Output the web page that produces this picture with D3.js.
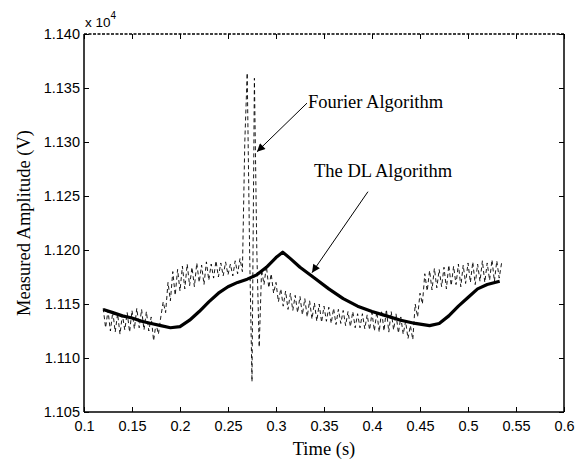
<!DOCTYPE html>
<html>
<head>
<meta charset="utf-8">
<script src="https://cdn.jsdelivr.net/npm/d3@7"></script>
<style>
body { margin: 0; background: #fff; }
svg { display: block; }
</style>
</head>
<body>
<svg width="584" height="464"></svg>
<script>
var svg = d3.select('svg');

// plot box
var boxLeft = 84, boxRight = 564, boxTop = 34, boxBottom = 412;

var xTicks = [0.1, 0.15, 0.2, 0.25, 0.3, 0.35, 0.4, 0.45, 0.5, 0.55, 0.6];
var yTicks = [1.105, 1.110, 1.115, 1.120, 1.125, 1.130, 1.135, 1.140];

// DL algorithm (thick line), values in units of 10^4 V
var dlTime = [0.120, 0.130, 0.140, 0.150, 0.160, 0.170, 0.180, 0.190, 0.200, 0.210,
              0.220, 0.230, 0.240, 0.250, 0.260, 0.270, 0.280, 0.290, 0.300, 0.307,
              0.315, 0.325, 0.340, 0.355, 0.370, 0.385, 0.400, 0.415, 0.430, 0.445,
              0.460, 0.470, 0.480, 0.490, 0.500, 0.510, 0.520, 0.533];
var dlValue = [1.1145, 1.1142, 1.1139, 1.1137, 1.1134, 1.1132, 1.1130, 1.1128, 1.1129, 1.1135,
               1.1143, 1.1152, 1.1160, 1.1166, 1.1170, 1.1173, 1.1177, 1.1184, 1.1193, 1.1198,
               1.1192, 1.1184, 1.1174, 1.1164, 1.1155, 1.1148, 1.1143, 1.1139, 1.1135, 1.1132,
               1.1130, 1.1132, 1.1139, 1.1148, 1.1156, 1.1164, 1.1168, 1.1171];

// Fourier algorithm (dashed), sampled every 2.5 ms from 0.12 s
var fourierStart = 0.12;
var fourierStep = 0.0025;
var fourierValue = [
  1.1146, 1.1128, 1.1144, 1.1125, 1.1143, 1.1124, 1.1141, 1.1122, 1.1140, 1.1126,
  1.1142, 1.1124, 1.1144, 1.1127, 1.1146, 1.1128, 1.1145, 1.1126, 1.1143, 1.1125,
  1.1138, 1.1116, 1.1132, 1.1122, 1.1138, 1.1152, 1.1142, 1.1170, 1.1153, 1.1180,
  1.1158, 1.1182, 1.1162, 1.1185, 1.1164, 1.1187, 1.1167, 1.1184, 1.1166, 1.1188,
  1.1170, 1.1186, 1.1168, 1.1189, 1.1172, 1.1187, 1.1174, 1.1190, 1.1175, 1.1188,
  1.1176, 1.1189, 1.1177, 1.1187, 1.1176, 1.1190, 1.1178, 1.1192, 1.1180, 1.1300,
  1.1364, 1.1200, 1.1078, 1.1359, 1.1200, 1.1110, 1.1182, 1.1168, 1.1185, 1.1165,
  1.1178, 1.1160, 1.1170, 1.1152, 1.1164, 1.1148, 1.1162, 1.1145, 1.1160, 1.1144,
  1.1158, 1.1142, 1.1157, 1.1140, 1.1155, 1.1138, 1.1153, 1.1136, 1.1151, 1.1134,
  1.1150, 1.1133, 1.1148, 1.1134, 1.1147, 1.1132, 1.1146, 1.1131, 1.1145, 1.1132,
  1.1144, 1.1130, 1.1143, 1.1129, 1.1143, 1.1128, 1.1141, 1.1128, 1.1141, 1.1127,
  1.1140, 1.1126, 1.1142, 1.1125, 1.1143, 1.1124, 1.1144, 1.1125, 1.1145, 1.1124,
  1.1143, 1.1126, 1.1141, 1.1123, 1.1138, 1.1122, 1.1134, 1.1118, 1.1130, 1.1117,
  1.1150, 1.1138, 1.1160, 1.1150, 1.1178, 1.1162, 1.1181, 1.1163, 1.1183, 1.1165,
  1.1182, 1.1166, 1.1184, 1.1164, 1.1186, 1.1167, 1.1185, 1.1168, 1.1187, 1.1166,
  1.1186, 1.1169, 1.1188, 1.1170, 1.1189, 1.1168, 1.1187, 1.1171, 1.1190, 1.1170,
  1.1188, 1.1172, 1.1191, 1.1171, 1.1190, 1.1174, 1.1188
];

var x = d3.scaleLinear().domain([0.1, 0.6]).range([boxLeft, boxRight]);
var y = d3.scaleLinear().domain([1.105, 1.140]).range([boxBottom, boxTop]);

var tickFont = "'Liberation Sans', Arial, sans-serif";
var titleFont = "'Liberation Serif', 'Times New Roman', serif";

// axes with inward ticks
var gBottom = svg.append("g").attr("transform", "translate(0," + boxBottom + ")")
    .call(d3.axisBottom(x).tickValues(xTicks).tickSizeInner(-5).tickSizeOuter(0)
        .tickPadding(9).tickFormat(d3.format("")));
var gLeft = svg.append("g").attr("transform", "translate(" + boxLeft + ",0)")
    .call(d3.axisLeft(y).tickValues(yTicks).tickSizeInner(-5).tickSizeOuter(0)
        .tickPadding(4).tickFormat(d3.format(".3f")));
var gTop = svg.append("g").attr("transform", "translate(0," + boxTop + ")")
    .call(d3.axisTop(x).tickValues(xTicks).tickSizeInner(-5).tickSizeOuter(0).tickFormat(""));
var gRight = svg.append("g").attr("transform", "translate(" + boxRight + ",0)")
    .call(d3.axisRight(y).tickValues(yTicks).tickSizeInner(-5).tickSizeOuter(0).tickFormat(""));

[gBottom, gLeft, gTop, gRight].forEach(function (g) {
    g.select(".domain").remove();
    g.selectAll(".tick line").attr("stroke", "#000").attr("stroke-width", 1);
    g.selectAll(".tick text").attr("font-family", tickFont).attr("font-size", 14.5).attr("fill", "#000");
});

// box
svg.append("line").attr("x1", boxLeft).attr("y1", boxTop).attr("x2", boxLeft).attr("y2", boxBottom)
    .attr("stroke", "#000").attr("stroke-width", 1.5);
svg.append("line").attr("x1", boxLeft).attr("y1", boxBottom).attr("x2", boxRight).attr("y2", boxBottom)
    .attr("stroke", "#000").attr("stroke-width", 1.5);
svg.append("line").attr("x1", boxRight).attr("y1", boxTop).attr("x2", boxRight).attr("y2", boxBottom)
    .attr("stroke", "#000").attr("stroke-width", 1.5);
svg.append("line").attr("x1", boxLeft).attr("y1", boxTop).attr("x2", boxRight).attr("y2", boxTop)
    .attr("stroke", "#000").attr("stroke-width", 1.5).attr("stroke-dasharray", "3,1.5");

// curves
var fourierData = fourierValue.map(function (v, i) {
    return [fourierStart + i * fourierStep, v];
});
var dlData = dlTime.map(function (t, i) { return [t, dlValue[i]]; });

var line = d3.line().x(function (d) { return x(d[0]); }).y(function (d) { return y(d[1]); });

svg.append("path").datum(fourierData).attr("d", line)
    .attr("fill", "none").attr("stroke", "#000").attr("stroke-width", 0.9)
    .attr("stroke-dasharray", "4,3");

svg.append("path").datum(dlData).attr("d", line)
    .attr("fill", "none").attr("stroke", "#000").attr("stroke-width", 3.2)
    .attr("stroke-linejoin", "round");

// axis titles
svg.append("text").attr("x", (boxLeft + boxRight) / 2).attr("y", 455)
    .attr("text-anchor", "middle").attr("font-family", titleFont).attr("font-size", 18.5)
    .text("Time (s)");
svg.append("text").attr("transform", "translate(30," + ((boxTop + boxBottom) / 2) + ") rotate(-90)")
    .attr("text-anchor", "middle").attr("font-family", titleFont).attr("font-size", 18.5)
    .text("Measured Amplitude (V)");

// exponent
var expo = svg.append("text").attr("x", 85).attr("y", 27)
    .attr("font-family", tickFont).attr("font-size", 13.5);
expo.append("tspan").text("x 10");
expo.append("tspan").attr("dy", -8).attr("font-size", 10).text("4");

// annotations
var defs = svg.append("defs");
defs.append("marker").attr("id", "arrow").attr("viewBox", "0 0 10 10")
    .attr("refX", 10).attr("refY", 5).attr("markerWidth", 12).attr("markerHeight", 8)
    .attr("markerUnits", "userSpaceOnUse").attr("orient", "auto")
    .append("path").attr("d", "M0,0L10,5L0,10z").attr("fill", "#000");

svg.append("line").attr("x1", x(0.3323)).attr("y1", y(1.1336)).attr("x2", x(0.2802)).attr("y2", y(1.1291))
    .attr("stroke", "#000").attr("stroke-width", 1).attr("marker-end", "url(#arrow)");
svg.append("text").attr("x", 308).attr("y", 108)
    .attr("font-family", titleFont).attr("font-size", 18.5).text("Fourier Algorithm");

svg.append("line").attr("x1", x(0.3958)).attr("y1", y(1.1254)).attr("x2", x(0.3375)).attr("y2", y(1.1179))
    .attr("stroke", "#000").attr("stroke-width", 1).attr("marker-end", "url(#arrow)");
svg.append("text").attr("x", 314).attr("y", 177)
    .attr("font-family", titleFont).attr("font-size", 18.5).text("The DL Algorithm");
</script>
</body>
</html>
